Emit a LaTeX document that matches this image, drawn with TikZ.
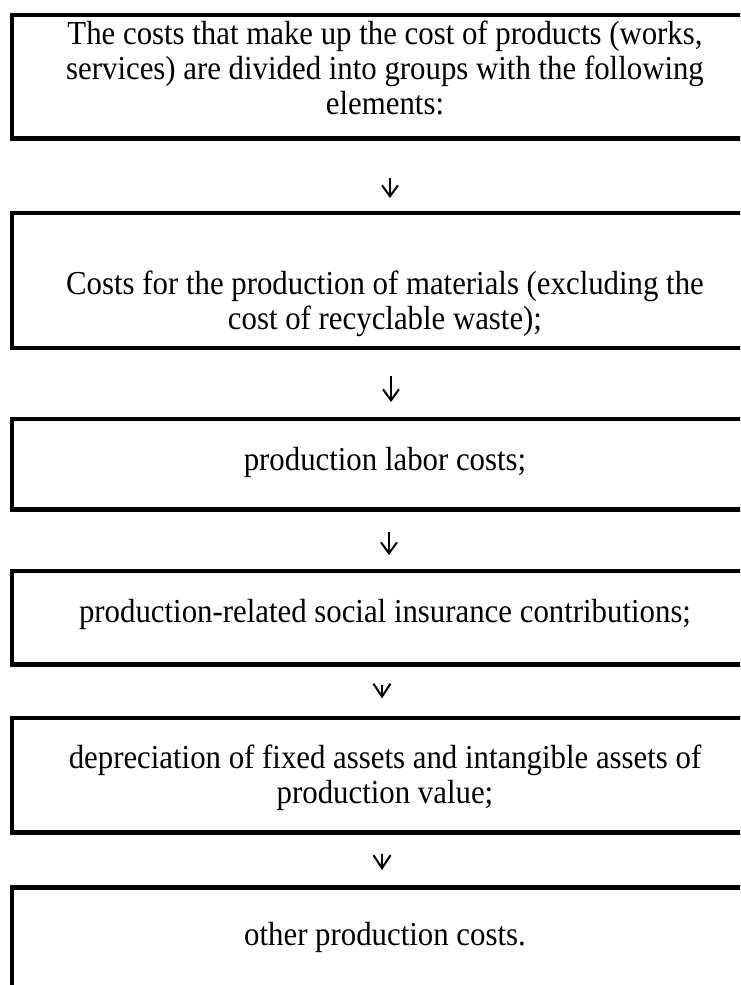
\documentclass[tikz,border=0pt]{standalone}
\usepackage{fontspec}
\setmainfont{Liberation Serif}[FakeStretch=0.92]
\usetikzlibrary{arrows.meta}
\begin{document}
\begin{tikzpicture}[x=1pt,y=-1pt,
  boxnode/.style={draw=black,line width=4.5pt,minimum width=750pt,inner sep=0pt,anchor=north},
  txt/.style={align=center,inner sep=0pt,font=\fontsize{33.5}{35}\selectfont},
  arr/.style={line width=2pt,-{Straight Barb[length=11pt,width=16pt,line width=2pt]}},
  arrv/.style={line width=2pt,-{Straight Barb[length=13pt,width=17pt,line width=2pt]}}]
\clip (0,0) rectangle (740,985);
\useasboundingbox (0,0) rectangle (740,985);
\fill[white] (0,0) rectangle (740,985);
% boxes
\node[boxnode,minimum height=123.5pt] (b1) at (387,12.5) {};
\node[boxnode,minimum height=135pt] (b2) at (387,210.5) {};
\node[boxnode,minimum height=90.5pt] (b3) at (387,416.5) {};
\node[boxnode,minimum height=93.5pt] (b4) at (387,568.5) {};
\node[boxnode,minimum height=114.5pt] (b5) at (387,715.5) {};
\node[boxnode,minimum height=130pt] (b6) at (387,885) {};
% texts
\node[txt] (t1) at (385,68) {The costs that make up the cost of products (works,\\services) are divided into groups with the following\\elements:};
\node[txt] (t2) at (385,304) {Costs for the production of materials (excluding the\\cost of recyclable waste);};
\node[txt] (t3) at (385,462) {production labor costs;};
\node[txt] (t4) at (385,614) {production-related social insurance contributions;};
\node[txt] (t5) at (385,778) {depreciation of fixed assets and intangible assets of\\production value;};
\node[txt] (t6) at (385,937) {other production costs.};
% arrows
\draw[arr,shorten <=37pt,shorten >=12.5pt] ([xshift=3pt]b1.south) -- ([xshift=3pt]b2.north);
\draw[arr,shorten <=26pt,shorten >=14.5pt] ([xshift=4pt]b2.south) -- ([xshift=4pt]b3.north);
\draw[arr,shorten <=20pt,shorten >=13.5pt] ([xshift=2pt]b3.south) -- ([xshift=2pt]b4.north);
\draw[arrv,shorten <=18pt,shorten >=17pt] ([xshift=-5pt]b4.south) -- ([xshift=-5pt]b5.north);
\draw[arrv,shorten <=19pt,shorten >=15pt] ([xshift=-5pt]b5.south) -- ([xshift=-5pt]b6.north);
\end{tikzpicture}
\end{document}
